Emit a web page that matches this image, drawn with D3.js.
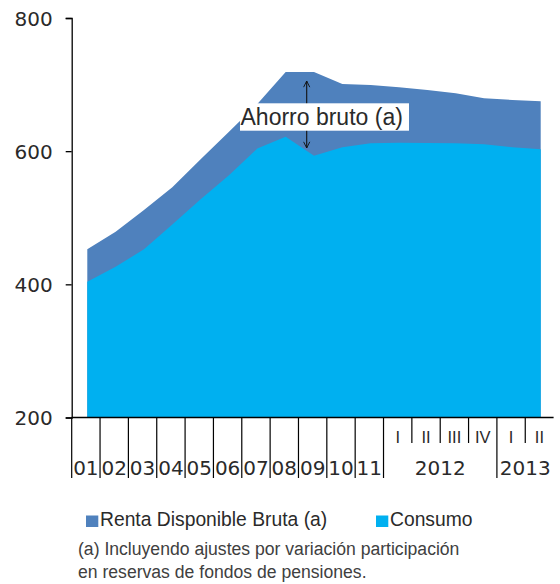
<!DOCTYPE html>
<html><head><meta charset="utf-8">
<script src="https://cdn.jsdelivr.net/npm/d3@7"></script>
<style>
html,body{margin:0;padding:0;background:#fff;}
svg{display:block;}
</style></head>
<body>
<svg id="chart" width="560" height="584"></svg>
<script>
// ---- data ----
const categories = ["01","02","03","04","05","06","07","08","09","10","11","2012-I","2012-II","2012-III","2012-IV","2013-I","2013-II"];
const yearLabels = ["01","02","03","04","05","06","07","08","09","10","11"];
const quarterLabels = ["I","II","III","IV","I","II"];
const groupLabels = ["2012","2013"];
const renta = [452.6, 479, 511.6, 545.7, 587.8, 629, 671, 719, 719, 701, 699.4, 696, 692, 687, 679.4, 677, 675];
const consumo = [404, 426.5, 452.6, 490, 527.7, 564, 604, 621.7, 593, 605.8, 611.8, 612.7, 612.3, 611.8, 610.3, 605.8, 602.8];
const yTicks = [200, 400, 600, 800];
const seriesNames = ["Renta Disponible Bruta (a)", "Consumo"];
const annotationText = "Ahorro bruto (a)";
const footnote = ["(a) Incluyendo ajustes por variación participación", "en reservas de fondos de pensiones."];

const colRenta = "#4F81BD", colConsumo = "#00B0F0";
const svg = d3.select("#chart");

const y = d3.scaleLinear().domain([200, 800]).range([417.5, 18]);
const xb = d3.scaleBand().domain(categories).range([71.7, 553.6]).padding(0);
const xp = d3.scalePoint().domain(categories).range([87.3, 540.7]);

const areaR = d3.area().x((d,i)=>xp(categories[i])).y0(y(200)).y1(d=>y(d));
svg.append("path").datum(renta).attr("d", areaR).attr("fill", colRenta);
svg.append("path").datum(consumo).attr("d", areaR).attr("fill", colConsumo);

// y axis
const yAxis = d3.axisLeft(y).tickValues(yTicks).tickSize(6).tickPadding(13).tickFormat(d3.format("d"));
const gy = svg.append("g").attr("transform", "translate(71.7,0)").call(yAxis);
gy.select(".domain").attr("stroke", "#000").attr("stroke-width", 1.3);
gy.selectAll(".tick line").attr("stroke", "#000").attr("stroke-width", 1.3);
gy.selectAll(".tick text").attr("font-family", "DejaVu Sans").attr("font-size", 20).attr("fill", "#2a2a2a").attr("dy", "0.36em");

// x axis baseline
svg.append("line").attr("x1", 71.7).attr("x2", 553.6).attr("y1", y(200)).attr("y2", y(200)).attr("stroke", "#000").attr("stroke-width", 1.3);

// category separators
const fullIdx = [0,1,2,3,4,5,6,7,8,9,10,11,15];
categories.forEach((c,i)=>{
  const full = fullIdx.includes(i);
  svg.append("line").attr("x1", xb(c)).attr("x2", xb(c))
    .attr("y1", y(200)).attr("y2", full ? 478 : 443)
    .attr("stroke", "#000").attr("stroke-width", 1.2);
});

// year labels
yearLabels.forEach((l,i)=>{
  svg.append("text").attr("x", xb(categories[i]) + xb.bandwidth()/2).attr("y", 475)
    .attr("text-anchor", "middle").attr("font-family", "DejaVu Sans").attr("font-size", 20)
    .attr("fill", "#2a2a2a").text(l);
});
// quarter labels
quarterLabels.forEach((l,i)=>{
  const c = categories[11+i];
  svg.append("text").attr("x", xb(c) + xb.bandwidth()/2).attr("y", 442.5)
    .attr("text-anchor", "middle").attr("font-family", "Liberation Sans").attr("font-size", 16.5)
    .attr("fill", "#2a2a2a").text(l);
});
// group labels
const g2012 = (xb(categories[11]) + xb(categories[14]) + xb.bandwidth())/2;
const g2013 = (xb(categories[15]) + xb(categories[16]) + xb.bandwidth())/2;
[g2012, g2013].forEach((gx,i)=>{
  svg.append("text").attr("x", gx).attr("y", 475).attr("text-anchor", "middle")
    .attr("font-family", "DejaVu Sans").attr("font-size", 20).attr("fill", "#2a2a2a").text(groupLabels[i]);
});

// annotation arrow
const ax = 306.7;
const defs = svg.append("defs");
defs.append("marker").attr("id", "arr").attr("viewBox", "0 0 10 10").attr("refX", 9).attr("refY", 5)
  .attr("markerWidth", 7).attr("markerHeight", 7).attr("orient", "auto-start-reverse")
  .append("path").attr("d", "M1,1 L9,5 L1,9").attr("fill", "none").attr("stroke", "#111").attr("stroke-width", 1.2);
svg.append("line").attr("x1", ax).attr("x2", ax).attr("y1", 81).attr("y2", 148)
  .attr("stroke", "#111").attr("stroke-width", 1.1)
  .attr("marker-start", "url(#arr)").attr("marker-end", "url(#arr)");
svg.append("rect").attr("x", 240).attr("y", 103.3).attr("width", 169).attr("height", 27.4).attr("fill", "#fff");
svg.append("text").attr("x", 240.5).attr("y", 125).attr("font-family", "Liberation Sans").attr("font-size", 23)
  .attr("fill", "#2a2a2a").text(annotationText);

// legend
const legX = [86, 376];
seriesNames.forEach((n,i)=>{
  svg.append("rect").attr("x", legX[i]).attr("y", 515.5).attr("width", 12.3).attr("height", 11.5)
    .attr("fill", i===0 ? colRenta : colConsumo);
  svg.append("text").attr("x", legX[i] + 14).attr("y", 525.5).attr("font-family", "Liberation Sans")
    .attr("font-size", 19.3).attr("fill", "#2a2a2a").text(n);
});

// footnote
footnote.forEach((t,i)=>{
  svg.append("text").attr("x", 78).attr("y", 554.5 + i*23).attr("font-family", "Liberation Sans")
    .attr("font-size", 17.6).attr("fill", "#404040").text(t);
});
</script>
</body></html>
